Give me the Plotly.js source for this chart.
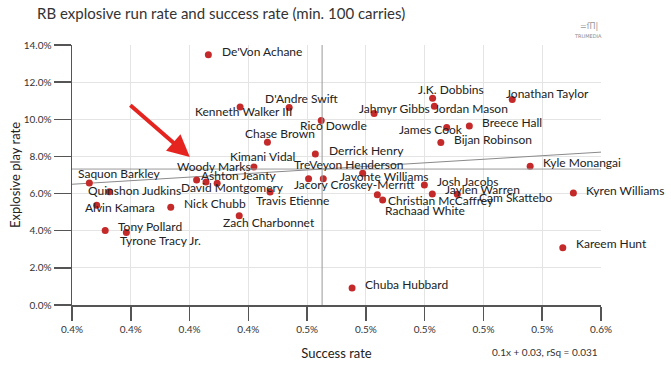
<!DOCTYPE html>
<html>
<head>
<meta charset="utf-8">
<script src="https://cdn.plot.ly/plotly-3.0.1.min.js"></script>
<style>html,body{margin:0;padding:0;background:#fff;}#chart{width:671px;height:365px;}</style>
</head>
<body>
<div id="chart"></div>
<script>
// ---- data ----
const players = ["De'Von Achane","D'Andre Swift","Kenneth Walker III","Rico Dowdle","Jahmyr Gibbs","Chase Brown","Derrick Henry","Kimani Vidal","Woody Marks","Ashton Jeanty","David Montgomery","Saquon Barkley","Quinshon Judkins","Alvin Kamara","Nick Chubb","Tony Pollard","Tyrone Tracy Jr.","Zach Charbonnet","Travis Etienne","TreVeyon Henderson","Jacory Croskey-Merritt","Javonte Williams","Christian McCaffrey","Rachaad White","Chuba Hubbard","J.K. Dobbins","Jordan Mason","Jonathan Taylor","James Cook","Breece Hall","Bijan Robinson","Josh Jacobs","Jaylen Warren","Cam Skattebo","Kyle Monangai","Kyren Williams","Kareem Hunt"];
const successRate = [0.4264,0.4539,0.4372,0.4648,0.4828,0.4465,0.4628,0.4419,0.4224,0.4256,0.4294,0.3859,0.3927,0.3884,0.4136,0.3913,0.3985,0.4369,0.4474,0.4605,0.4655,0.4789,0.4839,0.4857,0.4753,0.5027,0.5033,0.5298,0.5075,0.5152,0.5055,0.4999,0.5026,0.5111,0.5359,0.5506,0.5470];
const explosiveRate = [0.1347,0.1063,0.1066,0.0993,0.1031,0.0877,0.0813,0.0743,0.0673,0.0662,0.0655,0.0657,0.0610,0.0537,0.0527,0.0401,0.0391,0.0480,0.0609,0.0680,0.0680,0.0709,0.0593,0.0566,0.0092,0.1113,0.1070,0.1106,0.0956,0.0964,0.0875,0.0646,0.0598,0.0596,0.0747,0.0603,0.0308];
const xTickVals = [0.38,0.40,0.42,0.44,0.46,0.48,0.50,0.52,0.54,0.56];
const xTickText = ["0.4%","0.4%","0.4%","0.4%","0.5%","0.5%","0.5%","0.5%","0.5%","0.6%"];
const meanSuccess = 0.4651;
const meanExplosive = 0.0732;
const trendSlope = 0.0961;
const trendIntercept = 0.0285;
const trendText = "0.1x + 0.03, rSq = 0.031";

// ---- label offsets (pixels, layout only) ----
const labelDX = [11.7,-26,-47,-23,-17,-24,12,-26,-22,-7,-38,-13,-23,-14,11,11,-8,-18,-16,-17,-31,-25,9,0,11,-17,-2,-8,-50,11,11,11,11,20,11,11,11];
const labelDY = [3.3,9.3,-4.3,-4.7,5.3,9,4,11,14,7,-3.7,9,1.7,-2.7,3.3,3.7,-8.3,-7,-9,14.7,-5.3,-2.7,-6,-11,3.3,9,-2,6.3,-1.7,3.7,3.3,4,4,-2.7,3.3,3,4];

const xRange = [0.38, 0.56];
const traces = [
  {type:'scatter', mode:'lines', x:xRange, y:xRange.map(v=>trendSlope*v+trendIntercept),
   line:{color:'#8a8a8a', width:1}, hoverinfo:'skip'},
  {type:'scatter', mode:'markers', x:successRate, y:explosiveRate, text:players,
   marker:{color:'#c42a2a', size:7}, hoverinfo:'text'}
];

const annotations = players.map((p,i)=>({
  x:successRate[i], y:explosiveRate[i], xref:'x', yref:'y', text:p, showarrow:false,
  xanchor:'left', yanchor:'middle', xshift:labelDX[i], yshift:labelDY[i],
  font:{family:'Lato', size:12, color:'#222'}
}));
annotations.push({
  x:0.4201, y:0.0797, xref:'x', yref:'y', ax:-61, ay:-53, axref:'pixel', ayref:'pixel',
  showarrow:true, arrowhead:2, arrowsize:1.1, arrowwidth:4, arrowcolor:'#e52420', standoff:0, text:''
});
// paper coords: plot area spans x 72..601, y 44.5..305.5 in pixels
const px = v => (v-72)/529, py = v => (305.5-v)/261;
annotations.push({x:px(600), y:py(353), xref:'paper', yref:'paper', xanchor:'right', yanchor:'middle',
  text:trendText, showarrow:false, font:{family:'Lato', size:10, color:'#333'}});
annotations.push({x:px(588), y:py(35), xref:'paper', yref:'paper', xanchor:'center', yanchor:'middle',
  text:'TRUMEDIA', showarrow:false, font:{family:'DejaVu Sans', size:5, color:'#888'}});
annotations.push({x:px(589), y:py(26), xref:'paper', yref:'paper', xanchor:'center', yanchor:'middle',
  text:'=ſΠ|', showarrow:false, font:{family:'DejaVu Sans', size:8, color:'#9a9a9a'}});

const layout = {
  width:671, height:365,
  margin:{l:72, r:70, t:44.5, b:59.5},
  paper_bgcolor:'#fff', plot_bgcolor:'#fff',
  font:{family:'Lato', color:'#333'},
  showlegend:false,
  title:{text:'RB explosive run rate and success rate (min. 100 carries)', x:37/671, xanchor:'left', xref:'container',
    y:1-14/365, yref:'container', yanchor:'middle', font:{family:'Lato', size:15, color:'#333'}},
  xaxis:{range:xRange, tickvals:xTickVals, ticktext:xTickText, showgrid:true, gridcolor:'#e4e4e4', gridwidth:1,
    zeroline:false, showline:true, linecolor:'#555', linewidth:1.5, ticks:'outside', ticklen:14, tickwidth:1.5, tickcolor:'#555',
    tickfont:{family:'Lato', size:10, color:'#333'},
    title:{text:'Success rate', font:{family:'Lato', size:13, color:'#222'}, standoff:15}},
  yaxis:{range:[0,0.14], dtick:0.02, tick0:0, tickformat:'.1%', showgrid:true, gridcolor:'#e4e4e4', gridwidth:1,
    zeroline:false, showline:true, linecolor:'#555', linewidth:1.5, ticks:'outside', ticklen:17, tickwidth:1.5, tickcolor:'#555',
    tickfont:{family:'Lato', size:10, color:'#333'},
    title:{text:'Explosive play rate', font:{family:'Lato', size:13, color:'#222'}, standoff:0}},
  shapes:[
    {type:'line', xref:'x', yref:'paper', x0:meanSuccess, x1:meanSuccess, y0:0, y1:1, line:{color:'#999', width:1}},
    {type:'line', xref:'paper', yref:'y', x0:0, x1:1, y0:meanExplosive, y1:meanExplosive, line:{color:'#999', width:1}}
  ],
  annotations:annotations,
  hovermode:false
};
Plotly.newPlot('chart', traces, layout, {displayModeBar:false, staticPlot:true});
</script>
</body>
</html>
